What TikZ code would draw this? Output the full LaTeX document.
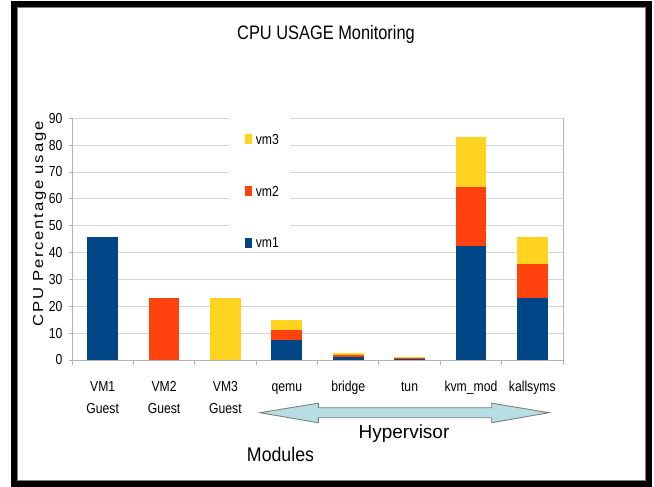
\documentclass[tikz,border=0pt]{standalone}
\usepackage{fontspec}
\setmainfont{Liberation Sans}
\newfontfamily\chartfont{Liberation Sans}[FakeStretch=0.84]
\newfontfamily\modfont{Liberation Sans}[FakeStretch=0.9]
\newfontfamily\axisfont{Liberation Sans}[FakeStretch=1.15,LetterSpace=12]
\definecolor{vmone}{HTML}{004586}
\definecolor{vmtwo}{HTML}{FF420E}
\definecolor{vmthree}{HTML}{FFD320}
\definecolor{gridc}{HTML}{D6D6D6}
\definecolor{axisc}{HTML}{B3B3B3}
\definecolor{arrowfill}{RGB}{183,222,226}
\definecolor{arrowline}{HTML}{7F7F7F}
\tikzset{
  small/.style={font=\chartfont\fontsize{14.5}{16}\selectfont, inner sep=0pt},
  gridline/.style={draw=gridc, line width=0.9pt},
  axisline/.style={draw=axisc, line width=0.9pt},
  legsq/.style={minimum width=7.3pt, minimum height=10pt, inner sep=0pt},
}
\begin{document}
\begin{tikzpicture}[x=1pt,y=-1pt]
\useasboundingbox (0,0) rectangle (654,487);
\fill[white] (0,0) rectangle (654,487);
% frame
\draw[line width=6pt] (13.75,4) rectangle (648.6,484);
\draw[arrowline, line width=0.8pt] (17,7.6) rectangle (645.3,480.6);
% title
\node[font=\chartfont\fontsize{19.5}{22}\selectfont, inner sep=0pt, anchor=base] (title) at (326,39.3) {CPU USAGE Monitoring};
% plot
\begin{scope}[shift={(72,360)}]
\begin{scope}[x=61.375pt, y=2.686pt]
  \foreach \v in {10,20,...,90} \draw[gridline] (0,\v) -- (8,\v);
  \draw[axisline] (8,0) -- (8,90);
  \draw[axisline] (0,0) -- (0,90);
  \draw[axisline] (0,0) -- (8,0);
  \foreach \v in {0,10,...,90} {
    \draw[axisline] (0,\v) -- ++(-3pt,0);
    \node[small, anchor=east] (t\v) at ([xshift=-9.3pt]0,\v) {\v};
  }
  \foreach \i in {0,...,8} \draw[axisline] (\i,0) -- ++(0,-5pt);
  % legend background
  \fill[white] (2.55,92) rectangle (3.56,40.5);
  % bars
  \foreach \i/\a/\b/\c in {0/45.7/45.7/45.7, 3/7.4/11.2/14.9, 4/1.1/1.9/2.5, 5/0.4/0.6/1.0, 6/42.4/64.3/83.1, 7/23.2/35.6/45.9} {
    \fill[vmthree] (\i+0.25,0) rectangle (\i+0.75,\c);
    \fill[vmtwo] (\i+0.25,0) rectangle (\i+0.75,\b);
    \fill[vmone] (\i+0.25,0) rectangle (\i+0.75,\a);
  }
  \fill[vmtwo] (1.25,0) rectangle (1.75,23.2);
  \fill[vmthree] (2.25,0) rectangle (2.75,23.2);
\end{scope}
\end{scope}
% legend
\node[legsq, fill=vmthree] (l3) at (248.7,138.7) {};
\node[legsq, fill=vmtwo] (l2) at (248.7,191.2) {};
\node[legsq, fill=vmone] (l1) at (248.7,242.5) {};
\node[small, anchor=base west] (l3t) at (255.7,144) {vm3};
\node[small, anchor=base west] (l2t) at (255.7,196.5) {vm2};
\node[small, anchor=base west] (l1t) at (255.7,247.8) {vm1};
% y axis label
\node[font=\axisfont\fontsize{14.5}{16}\selectfont, inner sep=0pt, rotate=90] (ylab) at (39.5,224) {CPU Percentage usage};
% category labels
\foreach \i/\t in {0/VM1, 1/VM2, 2/VM3, 3/qemu, 4/bridge, 5/tun, 6/kvm\_mod, 7/kallsyms}
  \node[small, anchor=base] (c\i) at ({72+61.375*(\i+0.5)},391.6) {\t};
\foreach \i in {0,1,2}
  \node[small, anchor=base] (g\i) at ({72+61.375*(\i+0.5)},413.3) {Guest};
% hypervisor arrow
\draw[fill=arrowfill, draw=arrowline, line width=0.9pt, line join=miter]
  (260,412.7) -- (318.3,403.2) -- (318.3,407.7) -- (491.7,407.7) -- (491.7,403.2)
  -- (549,412.7) -- (491.7,422.7) -- (491.7,417.7) -- (318.3,417.7) -- (318.3,422.7) -- cycle;
\node[font=\fontsize{19}{22}\selectfont, inner sep=0pt, anchor=base] (hyp) at (404,438.3) {Hypervisor};
\node[font=\modfont\fontsize{19.7}{22}\selectfont, inner sep=0pt, anchor=base] (mod) at (280.5,461) {Modules};
\end{tikzpicture}
\end{document}
